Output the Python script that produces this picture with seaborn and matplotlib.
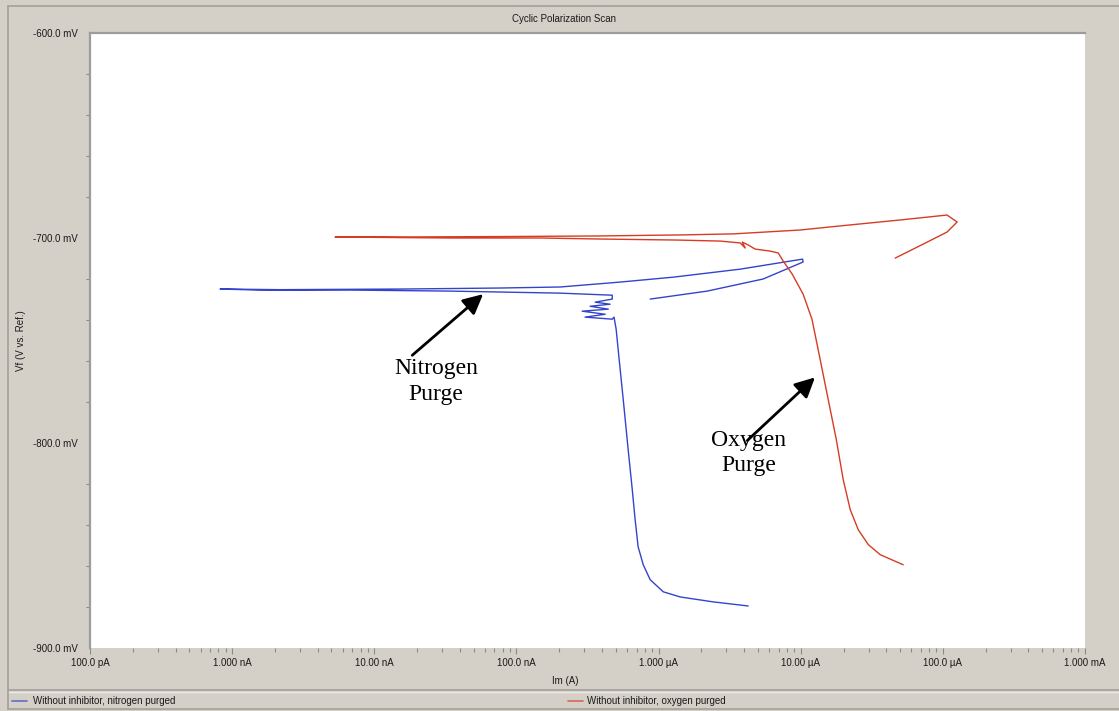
import matplotlib
matplotlib.use("Agg")
import matplotlib.pyplot as plt
from matplotlib.lines import Line2D
from matplotlib.ticker import FixedLocator, NullFormatter, LogLocator
import numpy as np
import pandas as pd
import seaborn as sns

# Scan data: current (A) and potential (mV), in scan order
n2_current = [
    4.27e-6, 2.42e-6, 1.42e-6, 1.08e-6, 8.73e-7, 7.80e-7, 7.18e-7, 6.84e-7,
    6.53e-7, 6.11e-7, 5.64e-7, 5.28e-7, 5.03e-7, 4.86e-7,
    4.72e-7, 3.04e-7, 4.21e-7, 2.90e-7, 4.43e-7, 3.30e-7, 4.56e-7, 3.58e-7,
    4.72e-7, 4.72e-7,
    2.03e-7, 3.41e-8, 6.76e-9, 1.57e-9, 8.22e-10,
    2.17e-9, 1.52e-8, 7.67e-8, 2.03e-7, 5.37e-7, 1.27e-6, 3.75e-6,
    1.03e-5, 1.04e-5, 5.44e-6, 2.20e-6, 8.73e-7,
]
n2_potential = [
    -879.5, -877.5, -875.1, -872.6, -866.7, -859.4, -850.6, -837.4,
    -822.7, -803.2, -778.7, -759.2, -744.5, -738.6,
    -739.6, -738.6, -737.2, -735.7, -734.7, -733.3, -732.3, -731.3,
    -729.8, -727.9,
    -726.9, -725.9, -725.4, -725.4, -724.9,
    -725.2, -724.9, -724.4, -723.9, -721.5, -719.1, -715.2,
    -710.3, -711.7, -720.0, -725.9, -729.8,
]

o2_current = [
    5.26e-5, 3.63e-5, 2.99e-5, 2.54e-5, 2.23e-5, 1.99e-5, 1.78e-5, 1.56e-5,
    1.37e-5, 1.20e-5, 1.04e-5, 8.71e-6, 7.52e-6, 6.95e-6, 6.11e-6, 4.78e-6,
    4.27e-6, 3.88e-6, 4.07e-6, 3.75e-6, 2.71e-6, 1.35e-6, 3.88e-7, 1.47e-7,
    3.41e-8, 1.52e-8, 5.30e-9,
    1.52e-8, 7.67e-8, 3.88e-7, 1.42e-6, 3.35e-6, 9.91e-6, 1.90e-5, 5.02e-5,
    1.07e-4, 1.26e-4, 1.07e-4, 7.76e-5, 4.62e-5,
]
o2_potential = [
    -859.4, -854.5, -849.6, -842.3, -832.5, -817.8, -798.3, -778.7,
    -759.2, -739.6, -727.4, -717.6, -711.2, -707.3, -706.4, -705.4,
    -703.4, -702.0, -704.9, -702.4, -701.5, -701.0, -700.5, -700.0,
    -700.0, -699.8, -699.5,
    -699.5, -699.3, -699.0, -698.5, -698.0, -696.1, -694.1, -691.2,
    -688.8, -692.2, -697.1, -702.0, -709.8,
]

series_labels = ["Without inhibitor, nitrogen purged", "Without inhibitor, oxygen purged"]
series_colors = ["#3344cc", "#d63c24"]

x_tick_values = [1e-10, 1e-9, 1e-8, 1e-7, 1e-6, 1e-5, 1e-4, 1e-3]
x_tick_labels = ["100.0 pA", "1.000 nA", "10.00 nA", "100.0 nA",
                 "1.000 \u00b5A", "10.00 \u00b5A", "100.0 \u00b5A", "1.000 mA"]
y_tick_values = [-600, -700, -800, -900]
y_tick_labels = ["-600.0 mV", "-700.0 mV", "-800.0 mV", "-900.0 mV"]

W, H = 1119, 711
BG = "#d4d0c8"
EDGE = "#a4a09a"

sns.set_style("white")
plt.rcParams["font.family"] = ["Liberation Sans", "DejaVu Sans"]

fig = plt.figure(figsize=(W / 100, H / 100), dpi=100, facecolor=BG)

def fx(px):
    return px / W

def fy(py):
    return 1 - py / H

ax = fig.add_axes([fx(90), fy(648), fx(1085) - fx(90), fy(33) - fy(648)])
ax.set_facecolor("white")

frames = [
    pd.DataFrame({"current": n2_current, "potential": n2_potential, "scan": series_labels[0]}),
    pd.DataFrame({"current": o2_current, "potential": o2_potential, "scan": series_labels[1]}),
]
for df, col in zip(frames, series_colors):
    sns.lineplot(data=df, x="current", y="potential", sort=False, estimator=None,
                 color=col, lw=1.0, ax=ax, legend=False)

ax.set_xscale("log")
ax.set_xlim(1e-10, 1e-3)
ax.set_ylim(-900, -600)

ax.xaxis.set_major_locator(FixedLocator(x_tick_values))
ax.set_xticklabels(x_tick_labels)
ax.xaxis.set_minor_locator(LogLocator(base=10, subs=np.arange(2, 10)))
ax.xaxis.set_minor_formatter(NullFormatter())
ax.set_yticks(y_tick_values)
ax.set_yticklabels(y_tick_labels)
ax.yaxis.set_minor_locator(FixedLocator(np.arange(-880, -600, 20)))

ax.tick_params(axis="both", which="both", direction="out", colors="#8a8a8a",
               labelcolor="#1a1a1a", labelsize=7, width=0.8,
               bottom=True, left=True, top=False, right=False)
ax.tick_params(axis="x", which="major", length=4, pad=3.5)
ax.tick_params(axis="x", which="minor", length=3)
ax.tick_params(axis="y", which="minor", length=3)
ax.tick_params(axis="y", which="major", length=0, pad=8.5)

for side in ["bottom", "right"]:
    ax.spines[side].set_visible(False)
for side in ["left", "top"]:
    ax.spines[side].set_color("#9c9c9c")
    ax.spines[side].set_linewidth(1.6)

ax.set_xlabel("Im (A)", fontsize=7, color="#1a1a1a")
ax.set_ylabel("Vf (V vs. Ref.)", fontsize=7, color="#1a1a1a")
ax.xaxis.set_label_coords((565 - 90) / 995, (648 - 676) / 615)
ax.yaxis.set_label_coords((26 - 90) / 995, 0.5)

# Annotation arrows and labels
serif = ["Liberation Serif", "DejaVu Serif"]
arrow_kw = dict(arrowstyle="-|>,head_length=1.2,head_width=0.6", color="black",
                lw=2.0, shrinkA=0, shrinkB=0)
ax.annotate("", xy=(5.83e-8, -727.4), xytext=(1.85e-8, -757.2), arrowprops=arrow_kw)
ax.annotate("", xy=(1.26e-5, -768.0), xytext=(4.21e-6, -798.8), arrowprops=arrow_kw)
ax.text(2.72e-8, -769.9, "Nitrogen\nPurge", ha="center", va="center",
        fontsize=17, family=serif, linespacing=1.3, color="black")
ax.text(4.28e-6, -804.9, "Oxygen\nPurge", ha="center", va="center",
        fontsize=17, family=serif, linespacing=1.3, color="black")

# Panel frame, title and legend strip
for (x0, y0, x1, y1) in [(8, 6, 1119, 6), (8, 6, 8, 709), (8, 690, 1119, 690), (8, 709, 1119, 709)]:
    fig.add_artist(Line2D([fx(x0), fx(x1)], [fy(y0), fy(y1)], color=EDGE, lw=1.2))
fig.add_artist(Line2D([fx(9), fx(1119)], [fy(692), fy(692)], color="#ecebe7", lw=1.0))

fig.text(fx(564), fy(19), "Cyclic Polarization Scan", ha="center", va="center",
         fontsize=7, color="#1a1a1a")

legend_pos = [(12, 33), (568, 587)]
for (lx, tx), lab, col in zip(legend_pos, series_labels, series_colors):
    fig.add_artist(Line2D([fx(lx), fx(lx + 15)], [fy(701), fy(701)], color=col, lw=1.2, alpha=0.7))
    fig.text(fx(tx), fy(701), lab, ha="left", va="center", fontsize=7, color="#1a1a1a")

fig.savefig("out.png", dpi=100, facecolor=BG)
